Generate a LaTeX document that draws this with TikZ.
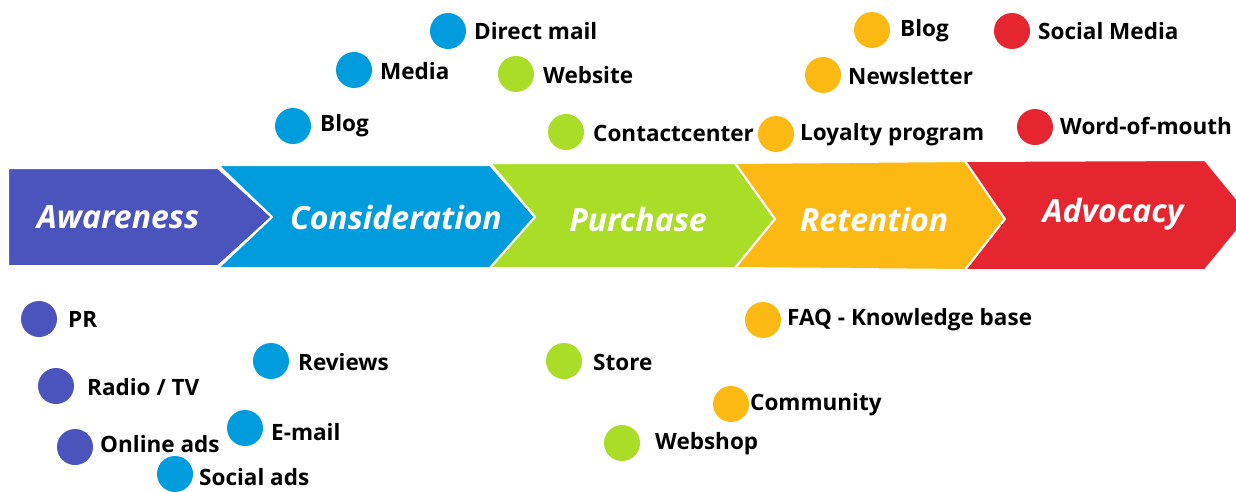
\documentclass[tikz,border=0pt]{standalone}
\usepackage{fontspec}
\setmainfont{Open Sans}
\definecolor{cAw}{HTML}{4B53BC}
\definecolor{cCo}{HTML}{009CDE}
\definecolor{cPu}{HTML}{AADD28}
\definecolor{cRe}{HTML}{FDB913}
\definecolor{cAd}{HTML}{E52630}
\tikzset{
  stage/.style={draw=white, line width=2pt, line join=round},
  stagetext/.style={text=white, font=\fontsize{32}{36}\selectfont\bfseries\itshape, inner sep=0pt},
  dot/.style={circle, minimum size=36pt, inner sep=0pt},
  lbl/.style={anchor=west, inner sep=0pt, font=\fontsize{22.5}{26}\selectfont\bfseries, text=black},
}
\newcommand\tpoint[7]{%
  \node[dot, fill=#4] (#1) at (#2,#3) {};
  \node[lbl] (#1-l) at (#6,#7) {#5};
}
\begin{document}
\begin{tikzpicture}[x=1pt,y=-1pt]
\useasboundingbox (0,0) rectangle (1236,492);
% chevrons
\fill[cAw, stage] (8,168) -- (218,168) -- (272,217) -- (218,266) -- (8,266) -- cycle;
\fill[cCo, stage] (218,165) -- (490,165) -- (535,217) -- (490,268) -- (218,268) -- (272,217) -- cycle;
\fill[cPu, stage] (490,163) -- (735,163) -- (775,219) -- (735,268) -- (490,268) -- (535,217) -- cycle;
\fill[cRe, stage] (735,163) -- (965,161) -- (1005,219) -- (965,270) -- (735,268) -- (775,219) -- cycle;
\fill[cAd, stage] (965,161) -- (1205,160) -- (1250,215) -- (1205,270) -- (965,270) -- (1005,219) -- cycle;
\node[stagetext] (aw) at (118,217) {Awareness};
\node[stagetext] (co) at (396,217) {Consideration};
\node[stagetext] (pu) at (638,219) {Purchase};
\node[stagetext] (re) at (874,219) {Retention};
\node[stagetext] (ad) at (1113,214) {Advocacy};
% touchpoints top
\tpoint{dm}{448}{31}{cCo}{Direct mail}{474}{31}
\tpoint{me}{354}{70}{cCo}{Media}{380}{71}
\tpoint{bl}{293}{126}{cCo}{Blog}{320}{126}
\tpoint{ws}{516}{74}{cPu}{Website}{543}{75}
\tpoint{cc}{566}{132}{cPu}{Contactcenter}{593}{133}
\tpoint{by}{872}{30}{cRe}{Blog}{900}{31}
\tpoint{nl}{823}{75}{cRe}{Newsletter}{848}{76}
\tpoint{lp}{776}{134}{cRe}{Loyalty program}{800}{135}
\tpoint{sm}{1012}{31}{cAd}{Social Media}{1038}{31}
\tpoint{wm}{1035}{127}{cAd}{Word-of-mouth}{1060}{126}
% touchpoints bottom
\tpoint{pr}{39}{319}{cAw}{PR}{68}{319}
\tpoint{rt}{56}{386}{cAw}{Radio / TV}{87}{387}
\tpoint{oa}{75}{447}{cAw}{Online ads}{100}{444}
\tpoint{rv}{271}{361}{cCo}{Reviews}{298}{362}
\tpoint{em}{245}{428}{cCo}{E-mail}{271}{432}
\tpoint{sa}{175}{474}{cCo}{Social ads}{199}{477}
\tpoint{st}{564}{361}{cPu}{Store}{593}{362}
\tpoint{wb}{622}{443}{cPu}{Webshop}{655}{444}
\tpoint{fq}{763}{320}{cRe}{FAQ - Knowledge base}{787}{320}
\tpoint{cm}{731}{404}{cRe}{Community}{750}{405}
\end{tikzpicture}
\end{document}
